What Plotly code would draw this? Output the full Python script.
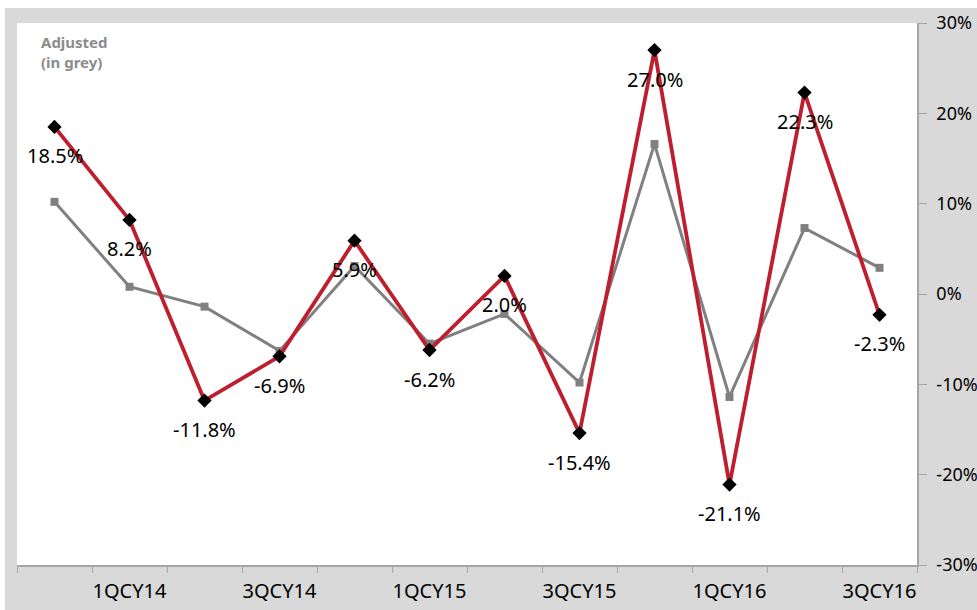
import plotly.graph_objects as go

# Quarterly growth, reported vs adjusted
quarters = ["4QCY13", "1QCY14", "2QCY14", "3QCY14", "4QCY14", "1QCY15",
            "2QCY15", "3QCY15", "4QCY15", "1QCY16", "2QCY16", "3QCY16"]
tick_labels = ["", "1QCY14", "", "3QCY14", "", "1QCY15",
               "", "3QCY15", "", "1QCY16", "", "3QCY16"]
reported = [18.5, 8.2, -11.8, -6.9, 5.9, -6.2, 2.0, -15.4, 27.0, -21.1, 22.3, -2.3]
adjusted = [10.2, 0.8, -1.4, -6.3, 3.1, -5.5, -2.2, -9.8, 16.6, -11.4, 7.3, 2.9]
y_ticks = [-30, -20, -10, 0, 10, 20, 30]

RED = "#BE1E2D"
GREY_LINE = "#808080"
FRAME = "#D9D9D9"
AXIS = "#A6A6A6"
FONT = "Noto Sans"

W, H = 977, 610
ML, MR, MT, MB = 17, 60, 23, 45
pw, ph = W - ML - MR, H - MT - MB

fig = go.Figure()

fig.add_trace(go.Scatter(
    x=quarters, y=adjusted, mode="lines+markers",
    line=dict(color=GREY_LINE, width=3),
    marker=dict(symbol="square", size=8, color=GREY_LINE),
    hoverinfo="skip", showlegend=False,
))
fig.add_trace(go.Scatter(
    x=quarters, y=reported, mode="lines+markers",
    line=dict(color=RED, width=3.8),
    marker=dict(symbol="diamond", size=11, color="black"),
    hoverinfo="skip", showlegend=False,
))

# value labels under each reported point
for q, v in zip(quarters, reported):
    fig.add_annotation(
        x=q, y=v, text=f"{v:.1f}%", showarrow=False, yshift=-29,
        font=dict(family=FONT, size=20, color="black"),
    )

fig.add_annotation(
    xref="paper", yref="paper", x=(39 - ML) / pw, y=(H - MB - 30) / ph,
    xanchor="left", yanchor="top", align="left", showarrow=False,
    text="<b>Adjusted<br>(in grey)</b>",
    font=dict(family=FONT, size=15, color="#8C8C8C"),
)

# grey frame behind the white plotting area
fig.add_shape(
    type="rect", xref="paper", yref="paper", layer="below",
    x0=(5 - ML) / pw, x1=(W - ML) / pw,
    y0=-(MB + 5) / ph, y1=(H - MB - 8) / ph,
    fillcolor=FRAME, line=dict(width=0),
)
fig.add_shape(
    type="rect", xref="paper", yref="paper", layer="below",
    x0=0, x1=1, y0=0, y1=1,
    fillcolor="white", line=dict(width=0),
)

fig.update_layout(
    width=W, height=H,
    margin=dict(l=ML, r=MR, t=MT, b=MB),
    paper_bgcolor="white", plot_bgcolor="white",
    font=dict(family=FONT, size=20, color="black"),
    xaxis=dict(
        type="category", categoryorder="array", categoryarray=quarters,
        range=[-0.5, len(quarters) - 0.5],
        tickmode="array", tickvals=quarters, ticktext=tick_labels,
        tickson="boundaries", ticks="outside", ticklen=6, tickcolor=AXIS,
        tickangle=0, automargin=False,
        showline=True, linecolor=AXIS, linewidth=1.5,
        showgrid=False, zeroline=False, ticklabelstandoff=7,
        tickfont=dict(family=FONT, size=20, color="black"),
    ),
    yaxis=dict(
        side="right", range=[-30, 30], automargin=False,
        tickmode="array", tickvals=y_ticks,
        ticktext=[f"{t}%" for t in y_ticks],
        ticks="outside", ticklen=8, tickcolor=AXIS,
        showline=True, linecolor=AXIS, linewidth=1.5,
        showgrid=False, zeroline=False, ticklabelstandoff=6,
        tickfont=dict(family=FONT, size=18, color="black"),
    ),
)

fig.write_html("out.html")
